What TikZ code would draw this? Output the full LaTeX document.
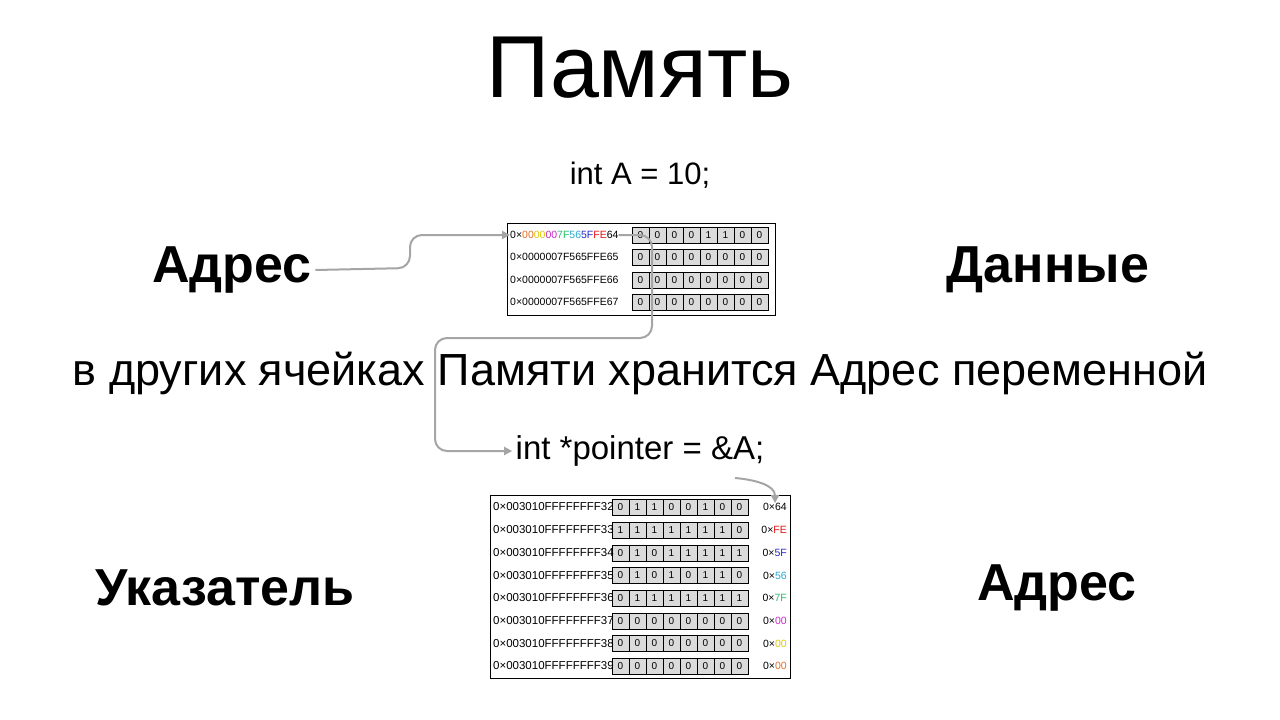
\documentclass[tikz,border=0pt]{standalone}
\usepackage{fontspec}
\setmainfont{Liberation Sans}
\usetikzlibrary{arrows.meta}
\definecolor{cA}{RGB}{230,110,40}
\definecolor{cB}{RGB}{220,200,0}
\definecolor{cC}{RGB}{200,40,200}
\definecolor{cD}{RGB}{40,190,110}
\definecolor{cE}{RGB}{40,170,210}
\definecolor{cF}{RGB}{40,40,200}
\definecolor{cG}{RGB}{230,20,20}
\definecolor{arr}{RGB}{165,165,165}
\tikzset{
 cell/.style={draw=black,fill=black!14,minimum width=17pt,minimum height=16pt,inner sep=0pt,font=\fontsize{10}{10}\selectfont,line width=0.5pt},
 addr/.style={anchor=west,inner sep=0pt,font=\fontsize{10.5}{10}\selectfont},
 baddr/.style={anchor=west,inner sep=0pt,font=\fontsize{11.5}{10}\selectfont},
 big/.style={font=\bfseries\fontsize{52}{52}\selectfont},
 con/.style={draw=arr,line width=2pt,rounded corners=12pt,-{Triangle[length=8pt,width=8pt]}},
}
\begin{document}
\begin{tikzpicture}[x=1pt,y=-1pt]
\useasboundingbox (0,0) rectangle (1280,720);
\node (title) at (640,68) {\fontsize{88}{88}\selectfont Память};
\node (intA) at (640,175) {\fontsize{31}{31}\selectfont int A = 10;};
\node[big] (adr1) at (232,270) {Адрес};
\node[big] (dat) at (1048,270) {Данные};
\node (sent) at (640,373) {\fontsize{45}{45}\selectfont в других ячейках Памяти хранится Адрес переменной};
\node (ptr) at (640,451) {\fontsize{33}{33}\selectfont int *pointer = \&A;};
\node[big] (uk) at (225,588) {Указатель};
\node[big] (adr2) at (1057,588) {Адрес};
% top table
\draw[line width=0.5pt,fill=white] (507,223) rectangle (775,315);
\foreach \r/\y/\bits in {0/235/{0,0,0,0,1,1,0,0},1/257/{0,0,0,0,0,0,0,0},2/280/{0,0,0,0,0,0,0,0},3/302/{0,0,0,0,0,0,0,0}}{
  \foreach \b [count=\i] in \bits { \node[cell] (t\r c\i) at (623.5+\i*17,\y) {\b}; }
}
\node[addr] (ta0) at (510,235) {0×\textcolor{cA}{00}\textcolor{cB}{00}\textcolor{cC}{00}\textcolor{cD}{7F}\textcolor{cE}{56}\textcolor{cF}{5F}\textcolor{cG}{FE}64};
\node[addr] (ta1) at (510,257) {0×0000007F565FFE65};
\node[addr] (ta2) at (510,280) {0×0000007F565FFE66};
\node[addr] (ta3) at (510,302) {0×0000007F565FFE67};
% bottom table
\draw[line width=0.5pt,fill=white] (490,495) rectangle (790,678);
\foreach \r/\y/\bits/\v in {
 0/507/{0,1,1,0,0,1,0,0}/{64},
 1/530/{1,1,1,1,1,1,1,0}/{\textcolor{cG}{FE}},
 2/553/{0,1,0,1,1,1,1,1}/{\textcolor{cF}{5F}},
 3/575.5/{0,1,0,1,0,1,1,0}/{\textcolor{cE}{56}},
 4/598/{0,1,1,1,1,1,1,1}/{\textcolor{cD}{7F}},
 5/621/{0,0,0,0,0,0,0,0}/{\textcolor{cC}{00}},
 6/643.5/{0,0,0,0,0,0,0,0}/{\textcolor{cB}{00}},
 7/666/{0,0,0,0,0,0,0,0}/{\textcolor{cA}{00}}}{
  \foreach \b [count=\i] in \bits { \node[cell] (b\r c\i) at (603.5+\i*17,\y) {\b}; }
  \node[baddr] (ba\r) at (493,\y) {0×003010FFFFFFFF3\pgfmathparse{int(\r+2)}\pgfmathresult};
  \node[addr,anchor=east] (bv\r) at (787,\y) {0×\v};
}
% connectors
\coordinate (k0) at (410,268);
\coordinate (k1) at (410,235);
\draw[con] (adr1.east) -- (k0) -- (k1) -- (ta0.west);
\coordinate (p1) at (652,235);
\coordinate (p2) at (652,338);
\coordinate (p3) at (435,338);
\coordinate (p4) at (435,451);
\draw[con] (ta0.east) -- (p1) -- (p2) -- (p3) -- (p4) -- (ptr.west);
\coordinate (q0) at (735,478);
\draw[con,rounded corners=0pt] (q0) to[out=-5,in=90] (bv0.north-|775,495);
\end{tikzpicture}
\end{document}
